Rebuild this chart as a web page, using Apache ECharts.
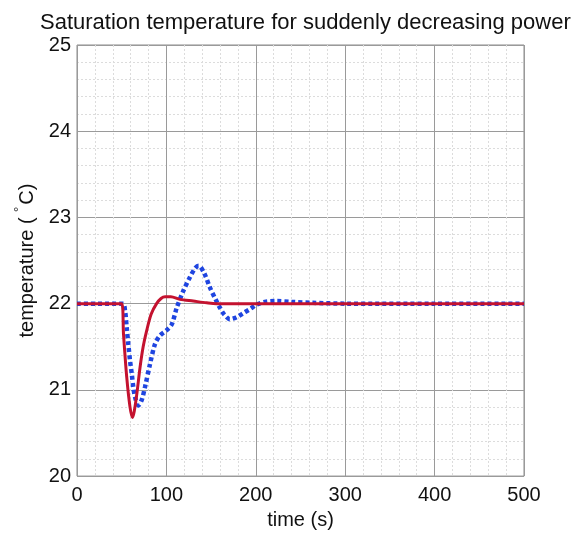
<!DOCTYPE html>
<html>
<head>
<meta charset="utf-8">
<script src="https://cdn.jsdelivr.net/npm/echarts@6/dist/echarts.min.js"></script>
<style>html,body{margin:0;padding:0;background:#fff;}#c{width:584px;height:535px;}</style>
</head>
<body>
<div id="c"></div>
<script>
var titleText = 'Saturation temperature for suddenly decreasing power';
var xName = 'time (s)';
var yName = 'temperature ( {sup|°}C)';

var redTime = [0, 50, 52, 55.6, 59.3, 62, 64, 67, 70.5, 74, 78, 83, 89, 94, 98.5, 105, 115, 130, 145, 156, 200, 300, 400, 500];
var redTemp = [22, 22, 21.65, 21.15, 20.8, 20.68, 20.75, 20.96, 21.26, 21.5, 21.69, 21.88, 22.0, 22.06, 22.08, 22.08, 22.05, 22.03, 22.01, 22.0, 22.0, 22.0, 22.0, 22.0];

var blueTime = [0, 51, 53.7, 55.6, 57.4, 59.3, 61.2, 63, 64.9, 68.6, 72.3, 76, 81.7, 87.2, 92.8, 100, 106, 111.5, 119, 126, 132, 136, 142, 149, 155, 160, 165, 171, 178, 186, 194, 201, 210, 223, 240, 264, 300, 400, 500];
var blueTemp = [22, 22, 21.92, 21.72, 21.53, 21.34, 21.19, 21.03, 20.92, 20.82, 20.88, 21.03, 21.3, 21.53, 21.63, 21.69, 21.76, 21.95, 22.15, 22.3, 22.41, 22.44, 22.36, 22.18, 22.05, 21.95, 21.87, 21.82, 21.84, 21.89, 21.94, 21.99, 22.02, 22.03, 22.02, 22.01, 22.0, 22.0, 22.0];

function zip(a, b) { return a.map(function (v, i) { return [v, b[i]]; }); }

var font = 'Liberation Sans, Arial, sans-serif';
var chart = echarts.init(document.getElementById('c'), null, {renderer: 'canvas'});
chart.setOption({
  animation: false,
  backgroundColor: '#fff',
  title: {
    text: titleText, left: 35, top: 7,
    textStyle: {fontFamily: font, fontSize: 22, fontWeight: 'normal', color: '#111'}
  },
  grid: {left: 77, right: 60, top: 45, bottom: 55, show: true, borderColor: '#8a8a8a', borderWidth: 1, backgroundColor: 'transparent'},
  xAxis: {
    type: 'value', min: 0, max: 500, interval: 100,
    name: xName, nameLocation: 'middle', nameGap: 31,
    nameTextStyle: {fontFamily: font, fontSize: 20, color: '#111'},
    axisLine: {show: false},
    axisTick: {show: false},
    axisLabel: {fontFamily: font, fontSize: 20, color: '#111', margin: 9},
    splitLine: {show: true, lineStyle: {color: '#9a9a9a', width: 1}},
    minorTick: {show: false, splitNumber: 5},
    minorSplitLine: {show: true, lineStyle: {color: '#dcdcdc', width: 1, type: [2, 2]}}
  },
  yAxis: {
    type: 'value', min: 20, max: 25, interval: 1,
    name: yName, nameLocation: 'middle', nameGap: 30, nameRotate: 90,
    nameTextStyle: {
      fontFamily: font, fontSize: 20, color: '#111',
      rich: {sup: {fontFamily: font, fontSize: 13, color: '#111', verticalAlign: 'top', padding: [0, 2, 16, 0]}}
    },
    axisLine: {show: false},
    axisTick: {show: false},
    axisLabel: {fontFamily: font, fontSize: 20, color: '#111', margin: 6},
    splitLine: {show: true, lineStyle: {color: '#9a9a9a', width: 1}},
    minorTick: {show: false, splitNumber: 5},
    minorSplitLine: {show: true, lineStyle: {color: '#dcdcdc', width: 1, type: [2, 2]}}
  },
  series: [
    {
      type: 'line', data: zip(blueTime, blueTemp), showSymbol: false, smooth: 0.3,
      lineStyle: {color: '#1f45e0', width: 4.5, type: [4, 3], cap: 'butt'}, z: 2
    },
    {
      type: 'line', data: zip(redTime, redTemp), showSymbol: false, smooth: 0.3,
      lineStyle: {color: '#c4122f', width: 3}, z: 3
    }
  ]
});
</script>
</body>
</html>
